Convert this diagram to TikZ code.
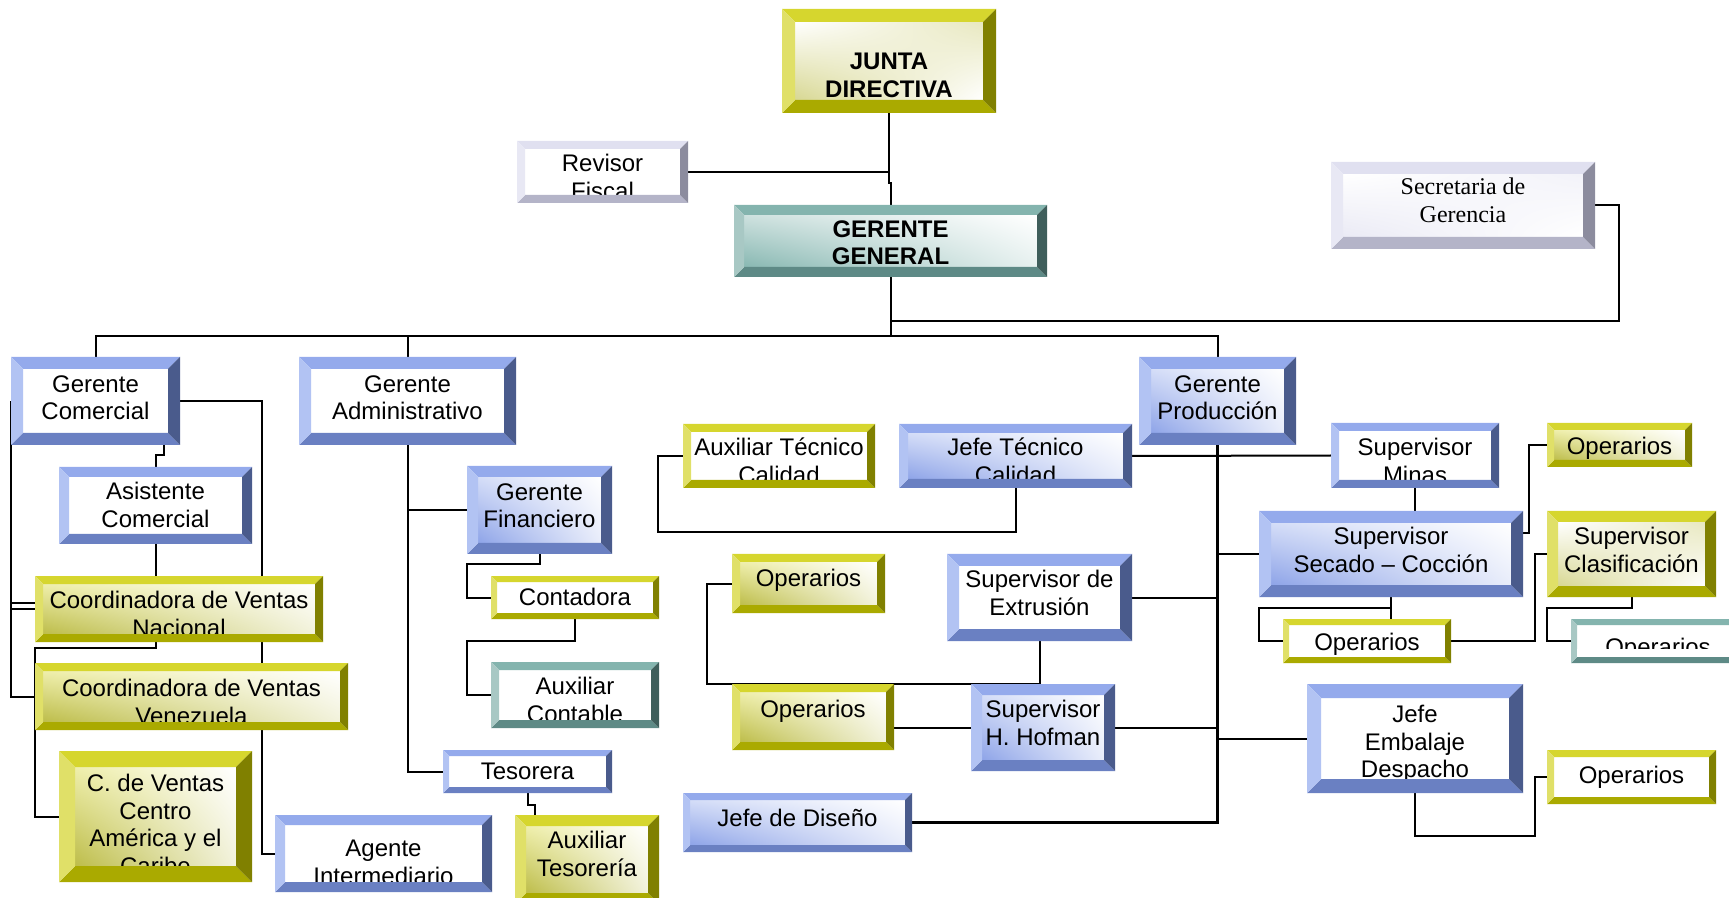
\documentclass[tikz,border=0pt]{standalone}
\usepackage{fontspec}
\setmainfont{Liberation Sans}
\newfontfamily\serifbox{Liberation Serif}
\usepackage{tikz}
\usetikzlibrary{fit,calc,shadings}
\pgfdeclarelayer{background}
\pgfsetlayers{background,main}

\definecolor{bltop}{HTML}{94AAEC}
\definecolor{blleft}{HTML}{B2C3F3}
\definecolor{blright}{HTML}{4A5B8C}
\definecolor{blbot}{HTML}{6A80C2}
\definecolor{blgrad}{HTML}{8EA4E8}
\definecolor{yltop}{HTML}{D6D62E}
\definecolor{ylleft}{HTML}{E0E068}
\definecolor{ylright}{HTML}{808000}
\definecolor{ylbot}{HTML}{AAAA00}
\definecolor{ylgrad}{HTML}{BDBD4A}
\definecolor{tltop}{HTML}{84B4AE}
\definecolor{tlleft}{HTML}{A8C8C4}
\definecolor{tlright}{HTML}{3F5E5B}
\definecolor{tlbot}{HTML}{5E8A86}
\definecolor{tlgrad}{HTML}{88B8B2}
\definecolor{lvtop}{HTML}{E0E0F0}
\definecolor{lvleft}{HTML}{E8E8F4}
\definecolor{lvright}{HTML}{8C8C9E}
\definecolor{lvbot}{HTML}{B4B4C8}
\definecolor{lvgrad}{HTML}{DCDCEE}

\newcommand{\orgfont}{\fontsize{18}{20.6}\selectfont}

\tikzset{
  conn/.style={line width=1.5pt},
  boxtext/.style={inner sep=0pt, align=center, font=\orgfont, execute at begin node=\strut},
  plain/.style={fill=white},
  grad/.style={shade, shading=bilinear interpolation, upper left=#1top!40!white, lower left=#1grad, upper right=white, lower right=white!80!#1grad},
  soft/.style={shade, shading=bilinear interpolation, upper left=white, lower left=#1grad!60!white, upper right=#1grad!35!white, lower right=white},
}

% #1 text options, #2 name, #3 colours, #4 face, #5 bevel, #6 top left, #7 bottom right, #8 text offset, #9 text
\newcommand{\orgbox}[9][]{%
  \coordinate (#2-nw) at (#6);
  \coordinate (#2-se) at (#7);
  \node[fit=(#2-nw)(#2-se), inner sep=0pt, outer sep=0pt] (#2) {};
  \path[#4=#3] ($(#2-nw)+(#5,#5)$) rectangle ($(#2-se)-(#5,#5)$);
  \begin{scope}
    \clip ($(#2-nw)+(#5,#5)$) rectangle ($(#2-se)-(#5,#5)$);
    \node[boxtext, anchor=north, #1] (#2-t) at ($(#2.north)+(0,#8+1)$) {#9};
  \end{scope}
  \fill[#3top] (#2.north west) -- (#2.north east) -- ($(#2.north east)+(-#5,#5)$) -- ($(#2.north west)+(#5,#5)$) -- cycle;
  \fill[#3bot] (#2.south west) -- (#2.south east) -- ($(#2.south east)+(-#5,-#5)$) -- ($(#2.south west)+(#5,-#5)$) -- cycle;
  \fill[#3left] (#2.north west) -- ($(#2.north west)+(#5,#5)$) -- ($(#2.south west)+(#5,-#5)$) -- (#2.south west) -- cycle;
  \fill[#3right] (#2.north east) -- ($(#2.north east)+(-#5,#5)$) -- ($(#2.south east)+(-#5,-#5)$) -- (#2.south east) -- cycle;
}

\begin{document}
\begin{tikzpicture}[x=0.75pt,y=0.75pt,yscale=-1,xscale=1]

\useasboundingbox (0,0) rectangle (1729,898);
\clip (0,0) rectangle (1729,898);

% top
\orgbox[font=\orgfont\bfseries]{jd}{yl}{soft}{13}{782,9}{996,113}{43}{JUNTA\\DIRECTIVA}
\orgbox{rf}{lv}{plain}{8}{517,141}{688,203}{12}{Revisor\\Fiscal}
\orgbox[font=\orgfont\bfseries]{gg}{tl}{grad}{10}{734,205}{1047,277}{14}{GERENTE\\GENERAL}
\orgbox[font=\orgfont\serifbox]{sg}{lv}{soft}{12}{1331,162}{1595,249}{15}{Secretaria de\\Gerencia}

% gerencias
\orgbox{gcom}{bl}{plain}{12}{11,357}{180,445}{17}{Gerente\\Comercial}
\orgbox{gadm}{bl}{plain}{12}{299,357}{516,445}{17}{Gerente\\Administrativo}
\orgbox{gprod}{bl}{grad}{12}{1139,357}{1296,445}{17}{Gerente\\Producción}

% comercial
\orgbox{asis}{bl}{plain}{10}{59,467}{252,544}{14}{Asistente\\Comercial}
\orgbox{cvn}{yl}{grad}{8}{35,576}{323,642}{14}{Coordinadora de Ventas\\Nacional}
\orgbox{cvv}{yl}{grad}{8}{35,663}{348,730}{15}{Coordinadora de Ventas\\Venezuela}
\orgbox{cvca}{yl}{grad}{16}{59,751}{252,882}{22}{C. de Ventas\\Centro\\América y el\\Caribe}
\orgbox{agen}{bl}{plain}{10}{275,815}{492,892}{24}{Agente\\Intermediario}

% administrativo
\orgbox{gfin}{bl}{grad}{11}{467,466}{612,554}{16}{Gerente\\Financiero}
\orgbox{cont}{yl}{plain}{6}{491,576}{659,619}{9}{Contadora}
\orgbox{auxc}{tl}{plain}{8}{491,662}{659,728}{14}{Auxiliar\\Contable}
\orgbox{teso}{bl}{plain}{6}{443,750}{612,793}{9}{Tesorera}
\orgbox{auxt}{yl}{grad}{11}{515,815}{659,904}{15}{Auxiliar\\Tesorería}

% produccion
\orgbox{atc}{yl}{plain}{8}{683,424}{875,488}{13}{Auxiliar Técnico\\Calidad}
\orgbox{jtc}{bl}{grad}{9}{899,424}{1132,488}{13}{Jefe Técnico\\Calidad}
\orgbox{opx1}{yl}{grad}{8}{732,554}{885,613}{12}{Operarios}
\orgbox{supx}{bl}{plain}{12}{947,554}{1132,641}{15}{Supervisor de\\Extrusión}
\orgbox{opx2}{yl}{grad}{8}{732,684}{894,750}{13}{Operarios}
\orgbox{suph}{bl}{grad}{11}{971,684}{1115,771}{15}{Supervisor\\H. Hofman}
\orgbox{jdis}{bl}{grad}{7}{683,793}{912,852}{13}{Jefe de Diseño}
\orgbox{supm}{bl}{plain}{8}{1331,423}{1499,488}{14}{Supervisor\\Minas}
\orgbox{supsc}{bl}{grad}{12}{1259,511}{1523,597}{15}{Supervisor\\Secado – Cocción}
\orgbox{opm}{yl}{grad}{7}{1547,423}{1692,467}{11}{Operarios}
\orgbox{supcl}{yl}{soft}{11}{1547,511}{1716,597}{15}{Supervisor\\Clasificación}
\orgbox{opsc}{yl}{plain}{6}{1283,619}{1451,663}{11}{Operarios}
\orgbox{opcl}{tl}{plain}{6}{1571,619}{1745,663}{16}{Operarios}
\fill[white] ($(opcl-nw)+(6,30)$) rectangle ($(opcl-se)-(6,6)$);
\orgbox{jemb}{bl}{plain}{14}{1307,684}{1523,793}{20}{Jefe\\Embalaje\\Despacho}
\orgbox{opem}{yl}{plain}{7}{1547,750}{1716,804}{13}{Operarios}

\coordinate (secj) at (890.5,321);
\coordinate (bus) at (890.5,336);

\begin{pgfonlayer}{background}
% top
\draw[conn] (jd.south) -- ++(0,70) -| (gg.north);
\draw[conn] (rf.east) -- (rf.east -| jd.south);
\draw[conn] (sg.east) -- ++(24,0) |- (secj);
\draw[conn] (gg.south) -- (bus);
\draw[conn] (gcom.north) |- (bus) -| (gprod.north);
\draw[conn] (gadm.north) -- (gadm.north |- bus);

% comercial
\draw[conn] (gcom.west) |- (cvv.west);
\draw[conn] (cvn.west) -- (cvn.west -| gcom.west);
\draw[conn] ($(cvn.west)+(0,-6)$) -- ($(cvn.west -| gcom.west)+(0,-6)$);
\draw[conn] ($(gcom.south)+(68,0)$) -- ++(0,10) -| (asis.north);
\draw[conn] (asis.south) -- (asis.south |- cvn.north);
\draw[conn] (asis.south |- cvn.south) -- ++(0,6) -| (cvv.south west) |- (cvca.west);
\draw[conn] (gcom.east) -- ++(82,0) |- (agen.west);

% administrativo
\draw[conn] (gadm.south) |- (teso.west);
\draw[conn] (gadm.south |- gfin.west) -- (gfin.west);
\draw[conn] (gfin.south) -- ++(0,10) -| (gfin.west |- cont.west) -- (cont.west);
\draw[conn] (cont.south) -- ++(0,22) -| (gfin.west |- auxc.west) -- (auxc.west);
\draw[conn] (teso.south) -- ++(0,12) -- ++(7,0) -- ++(0,12);

% produccion
\draw[conn] (jtc.south) -- ++(0,44) -| ($(atc.west)+(-25,0)$) -- (atc.west);
\draw[conn] (jtc.east) -- (supm.west);
\draw[conn] (supx.south) |- ($(opx2.north west)+(-25,0)$) |- (opx1.west);
\draw[conn] (suph.west) -- (suph.west -| opx2.east);
\draw[conn] (suph.east) -- (suph.east -| gprod.south);
\draw[conn] (supx.east) -- (supx.east -| gprod.south);
\draw[conn, line width=2pt] (gprod.south) |- (jdis.east);
\draw[conn] (supm.south) -- (supm.south |- supsc.north);
\draw[conn] ($(supsc.east)+(0,-21)$) -- ++(6,0) |- (opm.west);
\draw[conn] (supsc.west) -- (supsc.west -| gprod.south);
\draw[conn] (supsc.south) -- (supsc.south |- opsc.north);
\draw[conn] (supsc.south) -- ++(0,11) -| (supsc.west |- opsc.west) -- (opsc.west);
\draw[conn] (opsc.east) -- ++(84,0) |- (supcl.west);
\draw[conn] (supcl.south) -- ++(0,11) -| (supcl.west |- opcl.west) -- (opcl.west);
\draw[conn] (jemb.west) -- (jemb.west -| gprod.south);
\draw[conn] (jemb.south) -- ++(0,43) -| ($(opem.west)+(-12,0)$) -- (opem.west);
\end{pgfonlayer}

\end{tikzpicture}
\end{document}
